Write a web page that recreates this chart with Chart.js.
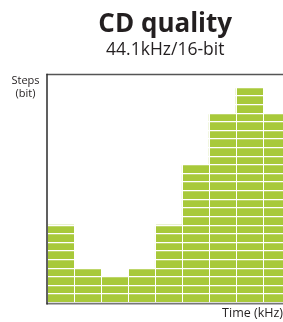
<!DOCTYPE html>
<html>
<head>
<meta charset="utf-8">
<script src="https://cdn.jsdelivr.net/npm/chart.js@4.4.1/dist/chart.umd.min.js"></script>
<style>
html,body{margin:0;padding:0;background:#fff;overflow:hidden}
#wrap{width:283px;height:322px;position:relative}
</style>
</head>
<body>
<div id="wrap"><canvas id="c"></canvas></div>
<script>
// ---- data ----
const titleText = 'CD quality';
const subtitleText = '44.1kHz/16-bit';
const yAxisLabel = ['Steps', '(bit)'];
const xAxisLabel = 'Time (kHz)';
const samples = ['1', '2', '3', '4', '5', '6', '7', '8', '9'];
const steps = [9, 4, 3, 4, 9, 16, 22, 25, 22];
const yMax = 26.5;   // visible step range
const xMax = 8.74;   // visible sample range (last sample cut at the edge)

const GREEN = '#a8c93a';
const FONT = 'Open Sans';
const TEXT = '#231f20';

const points = steps.map((v, i) => ({ x: i + 0.5, y: v, label: samples[i] }));

const axisPlugin = {
  id: 'axisLines',
  afterDraw(chart) {
    const { ctx, chartArea: a } = chart;
    ctx.save();
    // top frame line
    ctx.strokeStyle = '#555';
    ctx.lineWidth = 1.6;
    ctx.beginPath(); ctx.moveTo(a.left - 1, a.top); ctx.lineTo(chart.width, a.top); ctx.stroke();
    // bottom axis
    ctx.strokeStyle = '#767676';
    ctx.lineWidth = 1.8;
    ctx.beginPath(); ctx.moveTo(a.left - 1, a.bottom + 0.9); ctx.lineTo(chart.width, a.bottom + 0.9); ctx.stroke();
    // left axis
    ctx.strokeStyle = '#2b2b2b';
    ctx.lineWidth = 1.5;
    ctx.beginPath(); ctx.moveTo(a.left - 0.5, a.top - 0.8); ctx.lineTo(a.left - 0.5, a.bottom + 1.8); ctx.stroke();
    // y axis label (horizontal, top-left)
    ctx.fillStyle = TEXT;
    ctx.font = '11px "' + FONT + '"';
    ctx.textAlign = 'center';
    ctx.textBaseline = 'alphabetic';
    ctx.fillText(yAxisLabel[0], 25.5, 84.3);
    ctx.fillText(yAxisLabel[1], 25.5, 96.5);
    ctx.restore();
  }
};

new Chart(document.getElementById('c'), {
  type: 'bar',
  data: {
    datasets: [{
      data: points,
      backgroundColor: GREEN,
      borderWidth: 0,
      barPercentage: 1,
      categoryPercentage: 1
    }]
  },
  options: {
    responsive: true,
    maintainAspectRatio: false,
    animation: false,
    devicePixelRatio: 1,
    layout: { padding: { left: 47.5, top: 0, right: 0, bottom: 0 } },
    plugins: {
      legend: { display: false },
      tooltip: { enabled: false },
      title: {
        display: true, text: titleText, fullSize: false, color: TEXT,
        font: { family: FONT, size: 26, weight: 'bold', lineHeight: 1.2 },
        padding: { top: 8.5, bottom: 0 }
      },
      subtitle: {
        display: true, text: subtitleText, fullSize: false, color: TEXT,
        font: { family: FONT, size: 17.5, weight: 'normal', lineHeight: 1.2 },
        padding: { top: 0, bottom: 13.8 }
      }
    },
    scales: {
      x: {
        type: 'linear', min: 0, max: xMax, offset: false,
        ticks: { display: false, stepSize: 1, includeBounds: false },
        grid: { color: '#ffffff', lineWidth: 1, z: 1, drawTicks: false, offset: false },
        border: { display: false },
        title: {
          display: true, text: xAxisLabel, align: 'end', color: TEXT,
          font: { family: FONT, size: 12.5, lineHeight: 1.2 },
          padding: { top: 3.5, bottom: 0.8 }
        }
      },
      y: {
        min: 0, max: yMax,
        ticks: { display: false, stepSize: 1, includeBounds: false },
        grid: { color: '#ffffff', lineWidth: 1.3, z: 1, drawTicks: false },
        border: { display: false }
      }
    }
  },
  plugins: [axisPlugin]
});
</script>
</body>
</html>
